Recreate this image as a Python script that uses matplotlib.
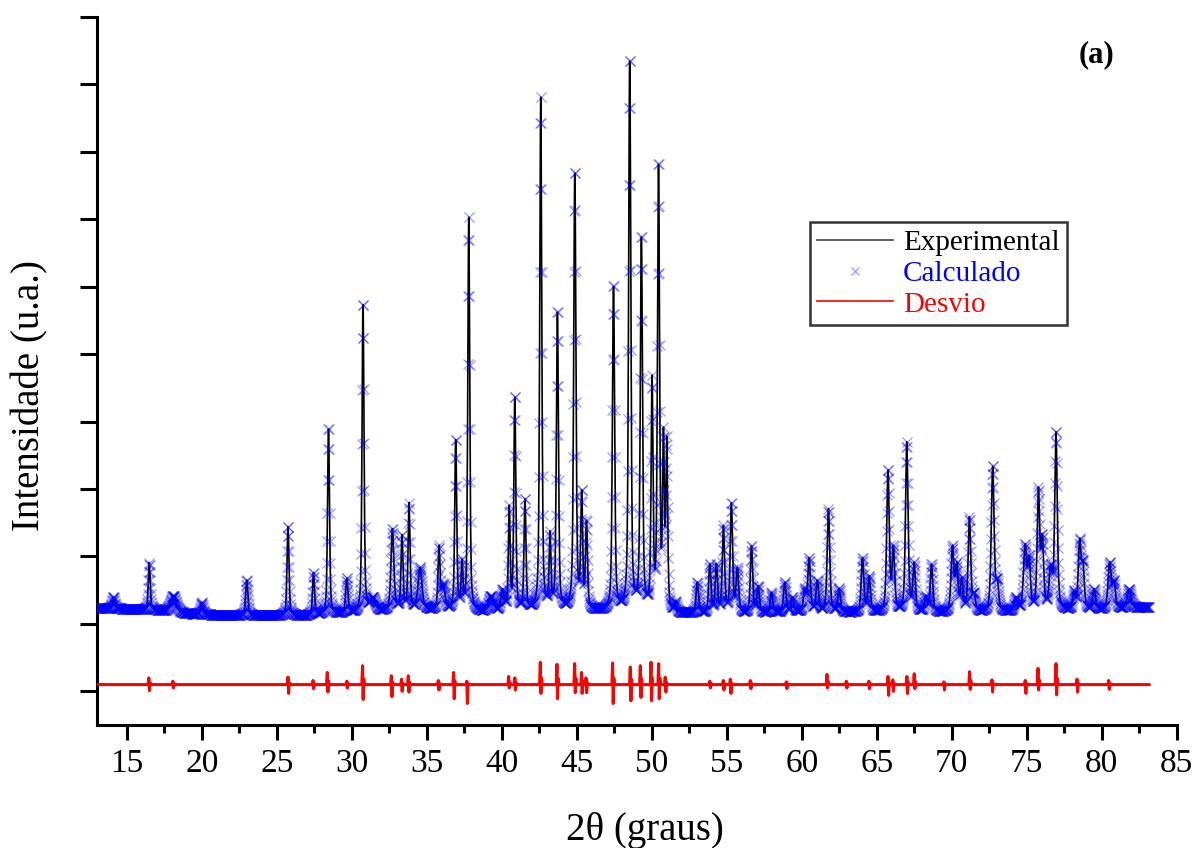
import numpy as np
import matplotlib
matplotlib.use('Agg')
import matplotlib.pyplot as plt
from matplotlib.ticker import MultipleLocator

plt.rcParams['font.family'] = ['Liberation Serif', 'DejaVu Serif']

# peak positions (2theta), peak tops (u.a.) and widths
pk_pos = [14.1, 16.5, 18.1, 20.0, 23.0, 25.75, 27.45, 28.45, 29.67, 30.75,
          31.4, 32.71, 33.35, 33.82, 34.55, 35.82, 36.1, 36.93, 37.35, 37.8,
          39.27, 40.05, 40.5, 40.87, 41.55, 42.6, 43.22, 43.71, 44.87, 45.33,
          45.65, 47.45, 48.53, 49.31, 50.02, 50.45, 50.78, 51.0, 51.6, 53.04,
          53.87, 54.31, 54.78, 55.31, 55.71, 56.65, 57.09, 57.98, 58.87, 59.38,
          60.2, 60.49, 61.04, 61.78, 62.49, 64.05, 64.49, 65.75, 66.11, 67.0,
          67.49, 68.27, 68.65, 70.05, 70.33, 70.67, 71.18, 71.49, 72.73, 73.04,
          74.27, 74.89, 75.16, 75.78, 76.04, 76.6, 76.95, 78.15, 78.53, 78.75,
          79.49, 80.53, 80.82, 81.82]
pk_top = [1.40, 1.91, 1.42, 1.32, 1.65, 2.46, 1.77, 3.93, 1.68, 5.80,
          1.40, 2.42, 2.34, 2.80, 1.84, 2.17, 1.60, 3.77, 1.97, 7.03,
          1.42, 1.52, 2.76, 4.41, 2.88, 8.81, 2.38, 5.68, 7.76, 3.01,
          2.55, 6.06, 9.44, 6.80, 4.69, 7.90, 3.92, 3.78, 1.34, 1.62,
          1.90, 1.90, 2.46, 2.81, 1.84, 2.17, 1.57, 1.47, 1.62, 1.40,
          1.53, 1.99, 1.65, 2.71, 1.53, 1.99, 1.72, 3.30, 2.17, 3.70,
          1.92, 1.42, 1.89, 2.17, 1.92, 1.70, 2.59, 1.47, 3.35, 1.68,
          1.40, 2.19, 2.02, 3.03, 2.34, 1.89, 3.87, 1.50, 2.27, 1.94,
          1.52, 1.92, 1.65, 1.52]
pk_fwhm = [0.20, 0.15, 0.45, 0.20, 0.18, 0.15, 0.15, 0.15, 0.18, 0.15,
           0.40, 0.22, 0.15, 0.15, 0.30, 0.16, 0.25, 0.15, 0.14, 0.15,
           0.40, 0.25, 0.14, 0.15, 0.15, 0.16, 0.14, 0.16, 0.17, 0.15,
           0.15, 0.17, 0.17, 0.17, 0.15, 0.16, 0.14, 0.14, 0.15, 0.20,
           0.18, 0.18, 0.18, 0.18, 0.20, 0.18, 0.20, 0.20, 0.20, 0.20,
           0.20, 0.20, 0.20, 0.20, 0.20, 0.20, 0.20, 0.20, 0.20, 0.20,
           0.20, 0.20, 0.20, 0.22, 0.20, 0.20, 0.20, 0.20, 0.22, 0.20,
           0.25, 0.25, 0.20, 0.20, 0.20, 0.25, 0.20, 0.20, 0.22, 0.20,
           0.22, 0.25, 0.22, 0.30]

# background level under the pattern
bg_pos = [13.0, 15.0, 17.0, 19.0, 21.0, 24.0, 27.0, 30.0, 33.0, 36.0, 39.0,
          42.0, 46.0, 52.0, 56.0, 60.0, 64.0, 68.0, 72.0, 76.0, 80.0, 83.15]
bg_val = [1.24, 1.22, 1.20, 1.15, 1.13, 1.12, 1.12, 1.15, 1.20, 1.20, 1.16,
          1.18, 1.18, 1.14, 1.14, 1.17, 1.16, 1.16, 1.16, 1.18, 1.20, 1.25]

# difference curve: spikes (position, up, down) around baseline
dif_base = 0.10
dif_pos = [16.5, 18.1, 25.78, 27.45, 28.4, 29.7, 30.75, 32.67, 33.35, 33.8,
           35.8, 36.82, 37.7, 40.49, 40.9, 42.6, 43.71, 44.89, 45.35, 45.65,
           47.42, 48.6, 49.27, 49.98, 50.49, 50.93, 53.9, 54.8, 55.27, 56.6,
           59.0, 61.71, 63.0, 64.5, 65.78, 66.1, 67.04, 67.53, 69.5, 71.22,
           72.71, 74.93, 75.78, 76.98, 78.38, 80.49]
dif_up = [0.10, 0.05, 0.11, 0.06, 0.18, 0.05, 0.28, 0.13, 0.08, 0.13,
          0.06, 0.18, 0.05, 0.12, 0.10, 0.33, 0.30, 0.31, 0.18, 0.10,
          0.32, 0.26, 0.28, 0.33, 0.31, 0.11, 0.05, 0.06, 0.08, 0.06,
          0.04, 0.15, 0.05, 0.05, 0.12, 0.07, 0.12, 0.16, 0.04, 0.19,
          0.07, 0.06, 0.24, 0.31, 0.08, 0.06]
dif_dn = [0.09, 0.05, 0.13, 0.06, 0.11, 0.05, 0.22, 0.18, 0.10, 0.11,
          0.08, 0.21, 0.28, 0.05, 0.08, 0.13, 0.21, 0.12, 0.13, 0.12,
          0.28, 0.24, 0.19, 0.24, 0.21, 0.11, 0.05, 0.08, 0.13, 0.06,
          0.06, 0.05, 0.05, 0.06, 0.16, 0.10, 0.13, 0.06, 0.08, 0.07,
          0.11, 0.13, 0.08, 0.15, 0.11, 0.07]

x_start, x_end, step = 13.0, 83.15, 0.02


def pvoigt(x, c, w, eta=0.5):
    g = np.exp(-4 * np.log(2) * ((x - c) / w) ** 2)
    l = 1.0 / (1.0 + 4 * ((x - c) / w) ** 2)
    return eta * l + (1 - eta) * g


tt = np.arange(x_start, x_end, step)
pos = np.array(pk_pos)
wid = np.array(pk_fwhm)
top = np.array(pk_top) - np.interp(pos, bg_pos, bg_val)
# amplitudes so that the summed profile hits the read peak tops
A = pvoigt(pos[:, None], pos[None, :], wid[None, :])
amp = np.clip(np.linalg.solve(A, top), 0, None)
calc = np.interp(tt, bg_pos, bg_val)
for c, w, a in zip(pos, wid, amp):
    calc += a * pvoigt(tt, c, w)

dx, dy = [x_start], [dif_base]
for p, u, d in zip(dif_pos, dif_up, dif_dn):
    dx += [p - 0.08, p - 0.03, p + 0.01, p + 0.05, p + 0.09]
    dy += [dif_base, dif_base + u, dif_base - d, dif_base + 0.3 * u, dif_base]
dx.append(x_end)
dy.append(dif_base)

fig = plt.figure(figsize=(12.02, 8.48), dpi=100)
ax = fig.add_axes([0.0805, 0.145, 0.8985, 0.835])

ax.plot(tt, calc, '-', color='black', lw=1.2, zorder=2, label='Experimental')
ax.plot(tt, calc, 'x', color='blue', ms=7.5, mew=0.9, alpha=0.4, zorder=3,
        label='Calculado')
ax.plot(dx, dy, '-', color='red', lw=2.2, zorder=4, label='Desvio')

ax.set_xlim(13, 85)
ax.set_ylim(-0.5, 10)
ax.spines['top'].set_visible(False)
ax.spines['right'].set_visible(False)
ax.spines['left'].set_linewidth(2.2)
ax.spines['bottom'].set_linewidth(2.2)

ax.xaxis.set_major_locator(MultipleLocator(5))
ax.xaxis.set_minor_locator(MultipleLocator(2.5))
ax.yaxis.set_major_locator(MultipleLocator(1))
ax.tick_params(axis='x', which='major', direction='out', length=11, width=2.2,
               labelsize=24, pad=6)
ax.tick_params(axis='x', which='minor', direction='out', length=6, width=2.2)
ax.tick_params(axis='y', which='major', direction='out', length=12, width=2.2,
               labelleft=False)
ax.set_xticks([15, 20, 25, 30, 35, 40, 45, 50, 55, 60, 65, 70, 75, 80, 85])

ax.set_xlabel('2θ (graus)', fontsize=28)
ax.set_ylabel('Intensidade (u.a.)', fontsize=28)
ax.xaxis.set_label_coords(0.508, -0.123)
ax.yaxis.set_label_coords(-0.045, 0.466)

ax.text(0.926, 0.946, '(a)', transform=ax.transAxes, fontsize=22,
        fontweight='bold', ha='center', va='center')

leg = ax.legend(loc='upper left', bbox_to_anchor=(0.66, 0.71), fontsize=21,
                frameon=True, fancybox=False, edgecolor='black', numpoints=1,
                handlelength=2.6, labelspacing=0.15, borderpad=0.25,
                handletextpad=0.35, borderaxespad=0, markerscale=0.8)
leg.get_frame().set_linewidth(1.8)
leg.legend_handles[0].set_color('#444444')
leg.legend_handles[2].set_linewidth(1.2)
for txt, col in zip(leg.get_texts(), ['black', 'blue', 'red']):
    txt.set_color(col)

fig.savefig('out.png', dpi=100)
